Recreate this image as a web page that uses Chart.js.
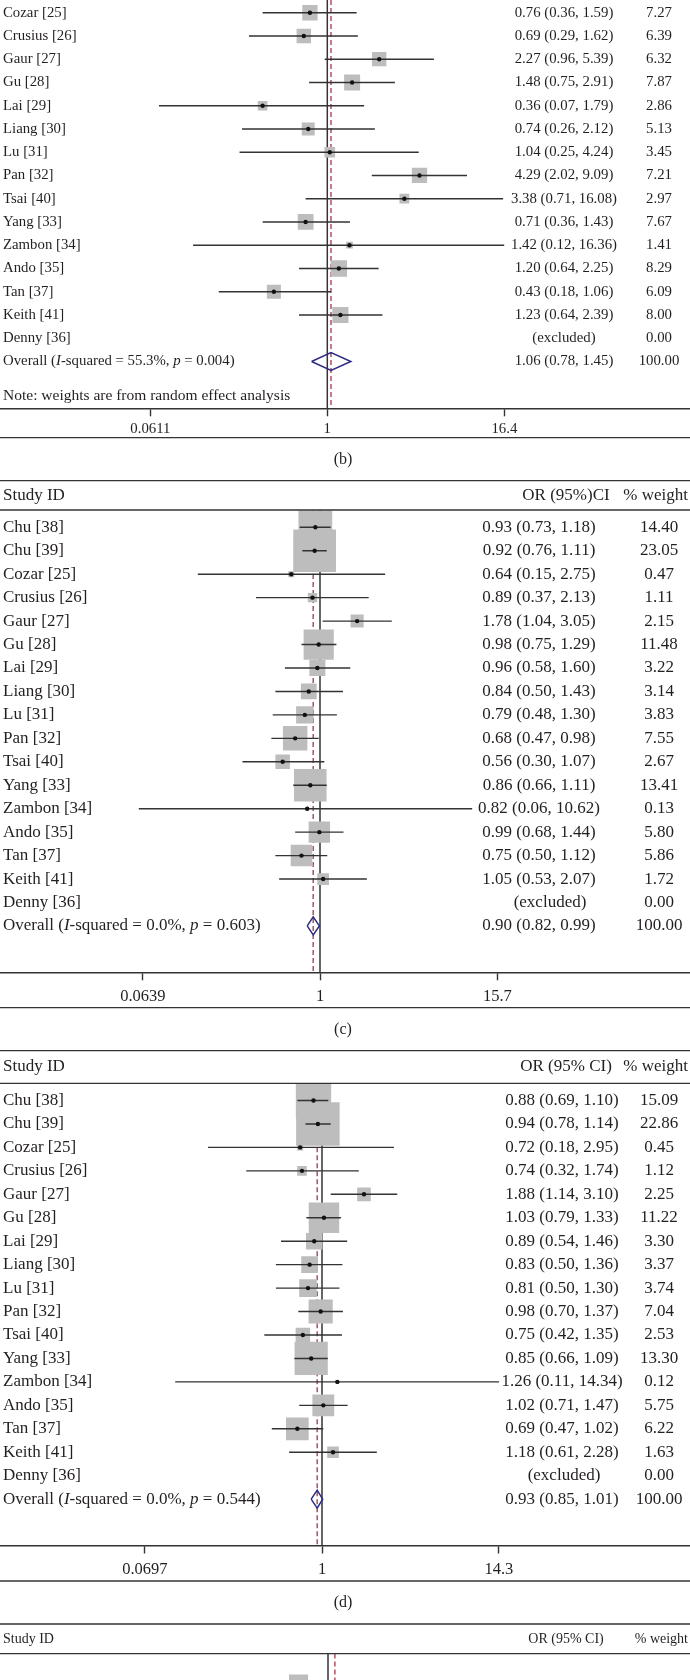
<!DOCTYPE html>
<html>
<head>
<meta charset="utf-8">
<script src="https://cdn.jsdelivr.net/npm/chart.js@4.4.0/dist/chart.umd.min.js"></script>
<style>
  html, body { margin: 0; padding: 0; background: #fff; overflow: hidden; }
  #wrap { position: relative; width: 690px; height: 1680px; overflow: hidden; }
  canvas { position: absolute; left: 0; }
</style>
</head>
<body>
<div id="wrap">
  <canvas id="panelB"></canvas>
  <canvas id="panelC"></canvas>
  <canvas id="panelD"></canvas>
  <canvas id="panelE"></canvas>
</div>
<script>
// ---- data, panel (b) (top part cut off in the figure) ----
const studiesB = ['Cozar [25]', 'Crusius [26]', 'Gaur [27]', 'Gu [28]', 'Lai [29]', 'Liang [30]', 'Lu [31]', 'Pan [32]',
  'Tsai [40]', 'Yang [33]', 'Zambon [34]', 'Ando [35]', 'Tan [37]', 'Keith [41]', 'Denny [36]'];
const orB = [0.76, 0.69, 2.27, 1.48, 0.36, 0.74, 1.04, 4.29, 3.38, 0.71, 1.42, 1.20, 0.43, 1.23, null];
const loB = [0.36, 0.29, 0.96, 0.75, 0.07, 0.26, 0.25, 2.02, 0.71, 0.36, 0.12, 0.64, 0.18, 0.64, null];
const hiB = [1.59, 1.62, 5.39, 2.91, 1.79, 2.12, 4.24, 9.09, 16.08, 1.43, 16.36, 2.25, 1.06, 2.39, null];
const weightB = [7.27, 6.39, 6.32, 7.87, 2.86, 5.13, 3.45, 7.21, 2.97, 7.67, 1.41, 8.29, 6.09, 8.00, 0.00];
const overallB = [1.06, 0.78, 1.45];
const statsB = ['55.3%', '0.004'];
const ticksB = [0.0611, 1, 16.4];

// ---- data, panel (c) ----
const studiesCD = ['Chu [38]', 'Chu [39]', 'Cozar [25]', 'Crusius [26]', 'Gaur [27]', 'Gu [28]', 'Lai [29]', 'Liang [30]',
  'Lu [31]', 'Pan [32]', 'Tsai [40]', 'Yang [33]', 'Zambon [34]', 'Ando [35]', 'Tan [37]', 'Keith [41]', 'Denny [36]'];
const orC = [0.93, 0.92, 0.64, 0.89, 1.78, 0.98, 0.96, 0.84, 0.79, 0.68, 0.56, 0.86, 0.82, 0.99, 0.75, 1.05, null];
const loC = [0.73, 0.76, 0.15, 0.37, 1.04, 0.75, 0.58, 0.50, 0.48, 0.47, 0.30, 0.66, 0.06, 0.68, 0.50, 0.53, null];
const hiC = [1.18, 1.11, 2.75, 2.13, 3.05, 1.29, 1.60, 1.43, 1.30, 0.98, 1.07, 1.11, 10.62, 1.44, 1.12, 2.07, null];
const weightC = [14.40, 23.05, 0.47, 1.11, 2.15, 11.48, 3.22, 3.14, 3.83, 7.55, 2.67, 13.41, 0.13, 5.80, 5.86, 1.72, 0.00];
const overallC = [0.90, 0.82, 0.99];
const statsC = ['0.0%', '0.603'];
const ticksC = [0.0639, 1, 15.7];

// ---- data, panel (d) ----
const orD = [0.88, 0.94, 0.72, 0.74, 1.88, 1.03, 0.89, 0.83, 0.81, 0.98, 0.75, 0.85, 1.26, 1.02, 0.69, 1.18, null];
const loD = [0.69, 0.78, 0.18, 0.32, 1.14, 0.79, 0.54, 0.50, 0.50, 0.70, 0.42, 0.66, 0.11, 0.71, 0.47, 0.61, null];
const hiD = [1.10, 1.14, 2.95, 1.74, 3.10, 1.33, 1.46, 1.36, 1.30, 1.37, 1.35, 1.09, 14.34, 1.47, 1.02, 2.28, null];
const weightD = [15.09, 22.86, 0.45, 1.12, 2.25, 11.22, 3.30, 3.37, 3.74, 7.04, 2.53, 13.30, 0.12, 5.75, 6.22, 1.63, 0.00];
const overallD = [0.93, 0.85, 1.01];
const statsD = ['0.0%', '0.544'];
const ticksD = [0.0697, 1, 14.3];

// ---- panel (e), only the top of its first box shows at the bottom edge ----
const orE = [0.64];
const weightE = [4.5];
const overallE = [1.11];

const SERIF = '"Liberation Serif", "Times New Roman", serif';
const INK = '#231f20';
const AXIS_H = 30;

function fmt(v) { return v.toFixed(2); }

// draws text pieces side by side, some italic
function drawRich(ctx, parts, x, y, size) {
  let cx = x;
  parts.forEach(([txt, it]) => {
    ctx.font = (it ? 'italic ' : '') + size + 'px ' + SERIF;
    ctx.fillText(txt, cx, y);
    cx += ctx.measureText(txt).width;
  });
}

function makePanel(id, d, L) {
  const cv = document.getElementById(id);
  cv.width = 690;
  cv.height = L.height;
  cv.style.top = L.top + 'px';

  const n = d.studies.length;
  const ov = n; // overall row
  const pts = [], boxes = [], ci = [];
  d.or.forEach((v, i) => {
    if (v == null) return;
    pts.push({ x: v, y: i });
    boxes.push({ x: v, y: i, w: d.weight[i] });
    if (d.lo) {
      ci.push({ x: d.lo[i], y: i }, { x: d.hi[i], y: i }, { x: null, y: null });
    }
  });

  const yMin = (L.chartTop - L.row0) / L.step;
  const yMax = (L.axis - L.row0) / L.step;
  const xMin = Math.exp(-L.x1 / L.k);
  const xMax = Math.exp((690 - L.x1) / L.k);

  const datasets = [
    { data: pts, pointStyle: 'circle', pointRadius: 2.2, backgroundColor: '#111', borderWidth: 0, order: 0 },
    { data: ci, showLine: true, borderColor: '#333', borderWidth: 1.4, pointRadius: 0, spanGaps: false, order: 1 },
    { data: boxes, pointStyle: 'rect', backgroundColor: '#bdbdbd', borderWidth: 0, order: 3,
      pointRadius: c => L.boxK * Math.sqrt(c.raw.w) / Math.SQRT2 },
    { data: [{ x: d.overall[0], y: yMin }, { x: d.overall[0], y: yMax }], showLine: true, borderColor: '#b04f5c',
      borderWidth: 1.5, borderDash: [5, 3], pointRadius: 0, order: 4 },
    { data: [{ x: 1, y: yMin }, { x: 1, y: yMax }], showLine: true, borderColor: '#333', borderWidth: 1.5,
      pointRadius: 0, order: 5 }
  ];
  if (d.overall.length === 3) {
    const [e, lo, hi] = d.overall;
    datasets.push({ data: [{ x: lo, y: ov }, { x: e, y: ov - 0.385 }, { x: hi, y: ov }, { x: e, y: ov + 0.385 }, { x: lo, y: ov }],
      showLine: true, borderColor: '#2c2c84', borderWidth: 1.5, pointRadius: 0, order: 2 });
  }

  const textPlugin = {
    id: 'forestText',
    afterDraw(chart) {
      const ctx = chart.ctx;
      const ys = chart.scales.y;
      const off = L.top;
      ctx.save();
      ctx.strokeStyle = '#333';
      ctx.lineWidth = 1.3;
      const rule = y => { ctx.beginPath(); ctx.moveTo(0, y - off); ctx.lineTo(690, y - off); ctx.stroke(); };
      if (L.topRule != null) rule(L.topRule);
      if (L.headerRule != null) rule(L.headerRule);
      if (L.bottomRule != null) rule(L.bottomRule);

      ctx.fillStyle = INK;
      ctx.textBaseline = 'middle';
      ctx.font = L.font + 'px ' + SERIF;
      if (L.header != null) {
        ctx.textAlign = 'left';
        ctx.fillText('Study ID', 3, L.header - off);
        ctx.textAlign = 'center';
        ctx.fillText(d.orHead, L.orHeadX, L.header - off);
        ctx.textAlign = 'right';
        ctx.fillText('% weight', 688, L.header - off);
      }
      d.studies.forEach((s, i) => {
        const y = ys.getPixelForValue(i);
        ctx.textAlign = 'left';
        ctx.fillText(s, 3, y);
        ctx.textAlign = 'center';
        if (d.or[i] == null) {
          ctx.fillText('(excluded)', L.exclX, y);
        } else {
          ctx.fillText(fmt(d.or[i]) + ' (' + fmt(d.lo[i]) + ', ' + fmt(d.hi[i]) + ')', L.orX, y);
        }
        ctx.fillText(fmt(d.weight[i]), L.wX, y);
      });
      if (d.stats) {
        const y = ys.getPixelForValue(ov);
        ctx.textAlign = 'left';
        drawRich(ctx, [['Overall (', false], ['I', true], ['-squared = ' + d.stats[0] + ', ', false], ['p', true],
          [' = ' + d.stats[1] + ')', false]], 3, y, L.font);
        ctx.font = L.font + 'px ' + SERIF;
        ctx.textAlign = 'center';
        const [e, lo, hi] = d.overall;
        ctx.fillText(fmt(e) + ' (' + fmt(lo) + ', ' + fmt(hi) + ')', L.orX, y);
        ctx.fillText('100.00', L.wX, y);
      }
      if (d.note) {
        ctx.textAlign = 'left';
        ctx.font = L.noteFont + 'px ' + SERIF;
        ctx.fillText(d.note, 3, ys.getPixelForValue(ov + 1.5));
      }
      if (L.caption != null) {
        ctx.textAlign = 'center';
        ctx.font = '16px ' + SERIF;
        ctx.fillText(d.caption, 343, L.caption - off);
      }
      ctx.restore();
    }
  };

  new Chart(cv, {
    type: 'scatter',
    data: { datasets },
    options: {
      responsive: false,
      animation: false,
      events: [],
      layout: { autoPadding: false,
        padding: { top: L.chartTop - L.top, bottom: L.top + L.height - L.axis - AXIS_H, left: 0, right: 0 } },
      plugins: { legend: { display: false }, tooltip: { enabled: false } },
      scales: {
        x: {
          type: 'logarithmic', min: xMin, max: xMax, bounds: 'data',
          border: { display: true, color: '#333', width: 1.4 },
          grid: { drawOnChartArea: false, drawTicks: true, tickLength: 8, tickColor: '#333', tickWidth: 1.4 },
          ticks: { color: INK, padding: L.tickPad, maxRotation: 0, autoSkip: false,
            font: { family: SERIF, size: L.tickFont || L.font },
            callback: (v, i) => d.tickLabels[i] },
          afterBuildTicks: s => { s.ticks = d.tickLabels.map(t => ({ value: t })); },
          afterFit: s => { s.height = AXIS_H; }
        },
        y: { type: 'linear', display: false, reverse: true, min: yMin, max: yMax }
      }
    },
    plugins: [textPlugin]
  });
}

makePanel('panelB',
  { studies: studiesB, or: orB, lo: loB, hi: hiB, weight: weightB, overall: overallB, stats: statsB,
    tickLabels: ticksB, note: 'Note: weights are from random effect analysis', caption: '(b)' },
  { top: 0, height: 470, chartTop: 0, row0: 12.7, step: 23.25, axis: 408.3, bottomRule: 437.7, caption: 460,
    x1: 327.3, k: 63.3, boxK: 5.7, orX: 564, exclX: 564, wX: 659, font: 14.8, noteFont: 15.5, tickPad: 4 });

makePanel('panelC',
  { studies: studiesCD, or: orC, lo: loC, hi: hiC, weight: weightC, overall: overallC, stats: statsC,
    tickLabels: ticksC, caption: '(c)', orHead: 'OR (95%)CI' },
  { top: 470, height: 575, topRule: 480.7, header: 495.3, headerRule: 510, chartTop: 510, row0: 527.3, step: 23.45,
    axis: 972.3, bottomRule: 1007.7, caption: 1030, x1: 320, k: 64.4, boxK: 8.9,
    orX: 539, exclX: 550, wX: 659, orHeadX: 566, font: 17, tickFont: 16.5, tickPad: 6 });

makePanel('panelD',
  { studies: studiesCD, or: orD, lo: loD, hi: hiD, weight: weightD, overall: overallD, stats: statsD,
    tickLabels: ticksD, caption: '(d)', orHead: 'OR (95% CI)' },
  { top: 1040, height: 575, topRule: 1050.7, header: 1067, headerRule: 1083.3, chartTop: 1083.3, row0: 1100.5, step: 23.45,
    axis: 1545.5, bottomRule: 1581, caption: 1603, x1: 322, k: 66.5, boxK: 9.1,
    orX: 562, exclX: 564, wX: 659, orHeadX: 566, font: 17, tickFont: 16.5, tickPad: 6 });

makePanel('panelE',
  { studies: [], or: orE, weight: weightE, overall: overallE, tickLabels: [0.07, 1, 14], orHead: 'OR (95% CI)' },
  { top: 1612, height: 500, topRule: 1624, header: 1639, headerRule: 1653.6, chartTop: 1653.6, row0: 1684, step: 23.45,
    axis: 2070, x1: 328, k: 66, boxK: 9.0, orX: 556, exclX: 563, wX: 656, orHeadX: 566, font: 14, tickPad: 7 });
</script>
</body>
</html>
